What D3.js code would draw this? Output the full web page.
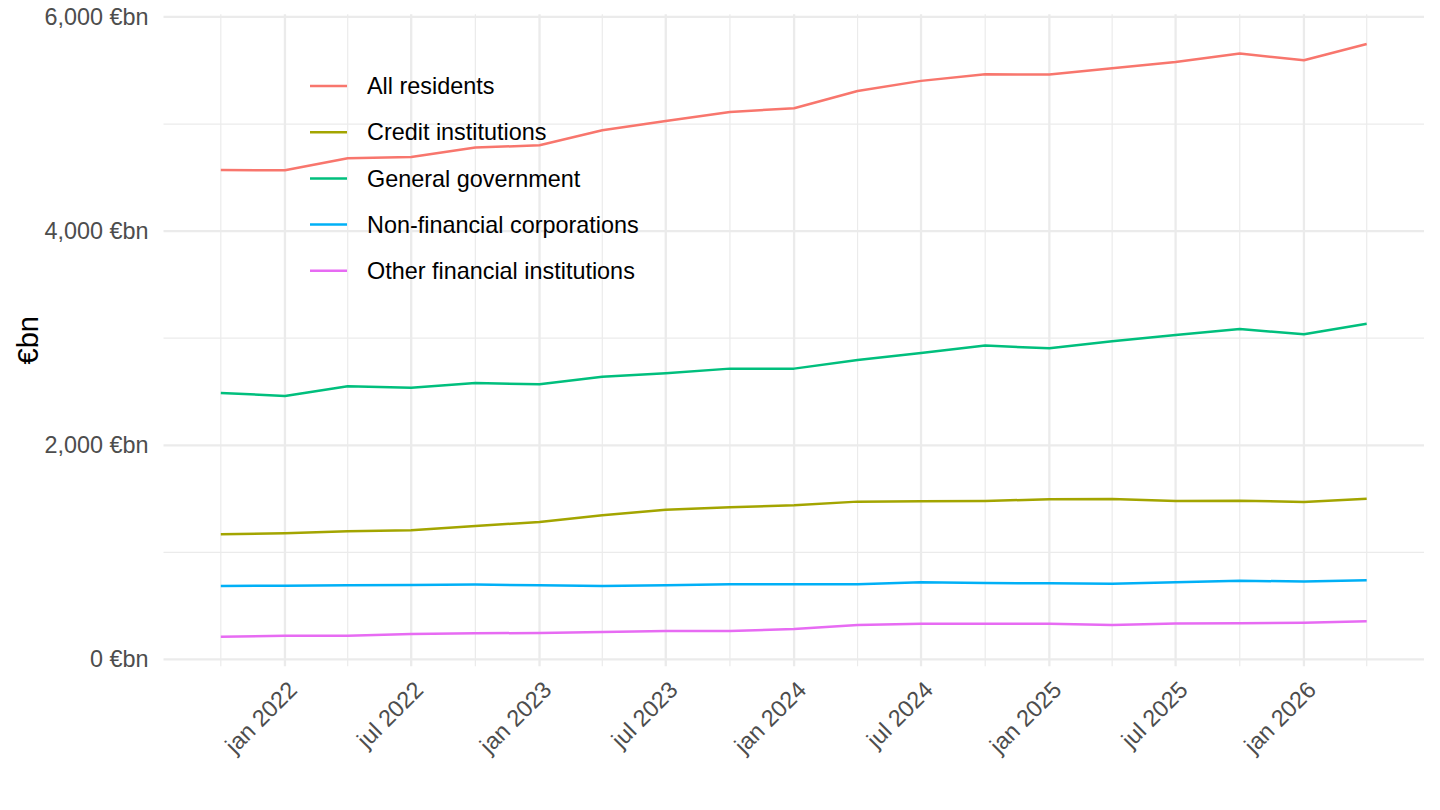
<!DOCTYPE html>
<html>
<head>
<meta charset="utf-8">
<script src="https://cdn.jsdelivr.net/npm/d3@7"></script>
<style>
  body { margin: 0; background: #fff; }
  svg { font-family: "Liberation Sans", Arial, Helvetica, sans-serif; }
</style>
</head>
<body>
<svg class="chart" width="1440" height="810"></svg>
<script>
// quarterly observations, oct 2021 -> apr 2026
const dates = [
  "2021-10-01", "2022-01-01", "2022-04-01", "2022-07-01", "2022-10-01",
  "2023-01-01", "2023-04-01", "2023-07-01", "2023-10-01", "2024-01-01",
  "2024-04-01", "2024-07-01", "2024-10-01", "2025-01-01", "2025-04-01",
  "2025-07-01", "2025-10-01", "2026-01-01", "2026-04-01"
];

const seriesNames = [
  "All residents",
  "Credit institutions",
  "General government",
  "Non-financial corporations",
  "Other financial institutions"
];

const seriesColors = ["#F8766D", "#A3A500", "#00BF7D", "#00B0F6", "#E76BF3"];

// values in €bn
const allResidents = [
  4571, 4568, 4680, 4693, 4780, 4802, 4942, 5029, 5113, 5147,
  5309, 5403, 5465, 5462, 5521, 5580, 5658, 5596, 5748
];
const creditInstitutions = [
  1169, 1178, 1197, 1206, 1247, 1284, 1347, 1399, 1421, 1440,
  1474, 1477, 1480, 1496, 1499, 1480, 1483, 1471, 1502
];
const generalGovernment = [
  2489, 2461, 2551, 2538, 2582, 2570, 2641, 2673, 2716, 2716,
  2797, 2862, 2931, 2906, 2972, 3030, 3086, 3037, 3136
];
const nonFinancialCorps = [
  686, 689, 693, 696, 699, 693, 686, 693, 702, 702,
  702, 721, 714, 711, 708, 721, 736, 727, 739
];
const otherFinancial = [
  213, 222, 222, 238, 245, 247, 257, 266, 266, 285,
  322, 334, 334, 334, 322, 337, 339, 343, 357
];

const yMajorTicks = [0, 2000, 4000, 6000];
const yMinorTicks = [1000, 3000, 5000];

const width = 1440;
const height = 810;
const panel = { left: 163.5, right: 1424, top: 14.3, bottom: 666.3 };

const parseDate = d3.timeParse("%Y-%m-%d");
const xDates = dates.map(parseDate);
const allValues = [allResidents, creditInstitutions, generalGovernment, nonFinancialCorps, otherFinancial];

const series = seriesNames.map((name, i) => ({
  name: name,
  color: seriesColors[i],
  values: allValues[i].map((v, j) => ({ date: xDates[j], value: v }))
}));

//make scales, ggplot style 5% expansion
const xExtent = d3.extent(xDates);
const xPad = (xExtent[1] - xExtent[0]) * 0.05;
const xScale = d3
  .scaleTime()
  .domain([new Date(+xExtent[0] - xPad), new Date(+xExtent[1] + xPad)])
  .range([panel.left, panel.right]);

const yMin = d3.min(allValues, s => d3.min(s));
const yMax = d3.max(allValues, s => d3.max(s));
const yPad = (yMax - yMin) * 0.05;
const yScale = d3
  .scaleLinear()
  .domain([yMin - yPad, yMax + yPad])
  .range([panel.bottom, panel.top]);

const svg = d3.select(".chart");

const grid = svg.append("g").attr("class", "grid");

// vertical grid: major jan/jul, minor at quarters in between
const xMajor = xScale.ticks(d3.timeMonth.every(6)).filter(d => d.getMonth() === 0 || d.getMonth() === 6);
const xMinor = xDates.filter(d => d.getMonth() === 3 || d.getMonth() === 9);

grid
  .selectAll("line.xminor")
  .data(xMinor)
  .enter()
  .append("line")
  .attr("x1", d => xScale(d))
  .attr("x2", d => xScale(d))
  .attr("y1", panel.top)
  .attr("y2", panel.bottom)
  .attr("stroke", "#ebebeb")
  .attr("stroke-width", 1.2);

grid
  .selectAll("line.yminor")
  .data(yMinorTicks)
  .enter()
  .append("line")
  .attr("x1", panel.left)
  .attr("x2", panel.right)
  .attr("y1", d => yScale(d))
  .attr("y2", d => yScale(d))
  .attr("stroke", "#ebebeb")
  .attr("stroke-width", 1.2);

grid
  .selectAll("line.xmajor")
  .data(xMajor)
  .enter()
  .append("line")
  .attr("x1", d => xScale(d))
  .attr("x2", d => xScale(d))
  .attr("y1", panel.top)
  .attr("y2", panel.bottom)
  .attr("stroke", "#ebebeb")
  .attr("stroke-width", 2.3);

grid
  .selectAll("line.ymajor")
  .data(yMajorTicks)
  .enter()
  .append("line")
  .attr("x1", panel.left)
  .attr("x2", panel.right)
  .attr("y1", d => yScale(d))
  .attr("y2", d => yScale(d))
  .attr("stroke", "#ebebeb")
  .attr("stroke-width", 2.3);

//y axis labels
const yAxis = g => {
  g.attr("transform", `translate(${panel.left}, 0)`).call(
    d3
      .axisLeft(yScale)
      .tickValues(yMajorTicks)
      .tickSize(0)
      .tickPadding(15)
      .tickFormat(d => `${d3.format(",")(d)} €bn`)
  );
  g.select(".domain").remove();
  g.selectAll("text")
    .style("font-size", "23.4px")
    .attr("fill", "#4d4d4d");
  return g;
};
svg.append("g").call(yAxis);

//x axis labels, rotated 45
const monthNames = ["jan", "feb", "mar", "apr", "may", "jun", "jul", "aug", "sep", "oct", "nov", "dec"];
const xAxis = g => {
  g.attr("transform", `translate(0, ${panel.bottom})`).call(
    d3
      .axisBottom(xScale)
      .tickValues(xMajor)
      .tickSize(0)
      .tickFormat(d => `${monthNames[d.getMonth()]} ${d.getFullYear()}`)
  );
  g.select(".domain").remove();
  g.selectAll("text")
    .style("font-size", "23.4px")
    .style("text-anchor", "end")
    .attr("fill", "#4d4d4d")
    .attr("y", 0)
    .attr("dy", 0)
    .attr("transform", "translate(13, 25) rotate(-45)");
  return g;
};
svg.append("g").call(xAxis);

//y title
svg
  .append("text")
  .attr("transform", `translate(38, ${(panel.top + panel.bottom) / 2}) rotate(-90)`)
  .attr("text-anchor", "middle")
  .style("font-size", "29px")
  .attr("fill", "#000")
  .text("€bn");

//lines
const line = d3
  .line()
  .x(d => xScale(d.date))
  .y(d => yScale(d.value));

svg
  .append("g")
  .selectAll("path")
  .data(series)
  .enter()
  .append("path")
  .attr("d", d => line(d.values))
  .attr("fill", "none")
  .attr("stroke", d => d.color)
  .attr("stroke-width", 2.5)
  .attr("stroke-linejoin", "round");

//legend inside panel, top left
const legend = svg
  .append("g")
  .attr("class", "legend")
  .attr("transform", "translate(310, 86)");

const rows = legend
  .selectAll("g")
  .data(series)
  .enter()
  .append("g")
  .attr("transform", (d, i) => `translate(0, ${i * 46.2})`);

rows
  .append("line")
  .attr("x1", 0)
  .attr("x2", 37)
  .attr("stroke", d => d.color)
  .attr("stroke-width", 2.5);

rows
  .append("text")
  .attr("x", 57)
  .attr("dy", "0.35em")
  .style("font-size", "23.4px")
  .attr("fill", "#000")
  .text(d => d.name);
</script>
</body>
</html>
